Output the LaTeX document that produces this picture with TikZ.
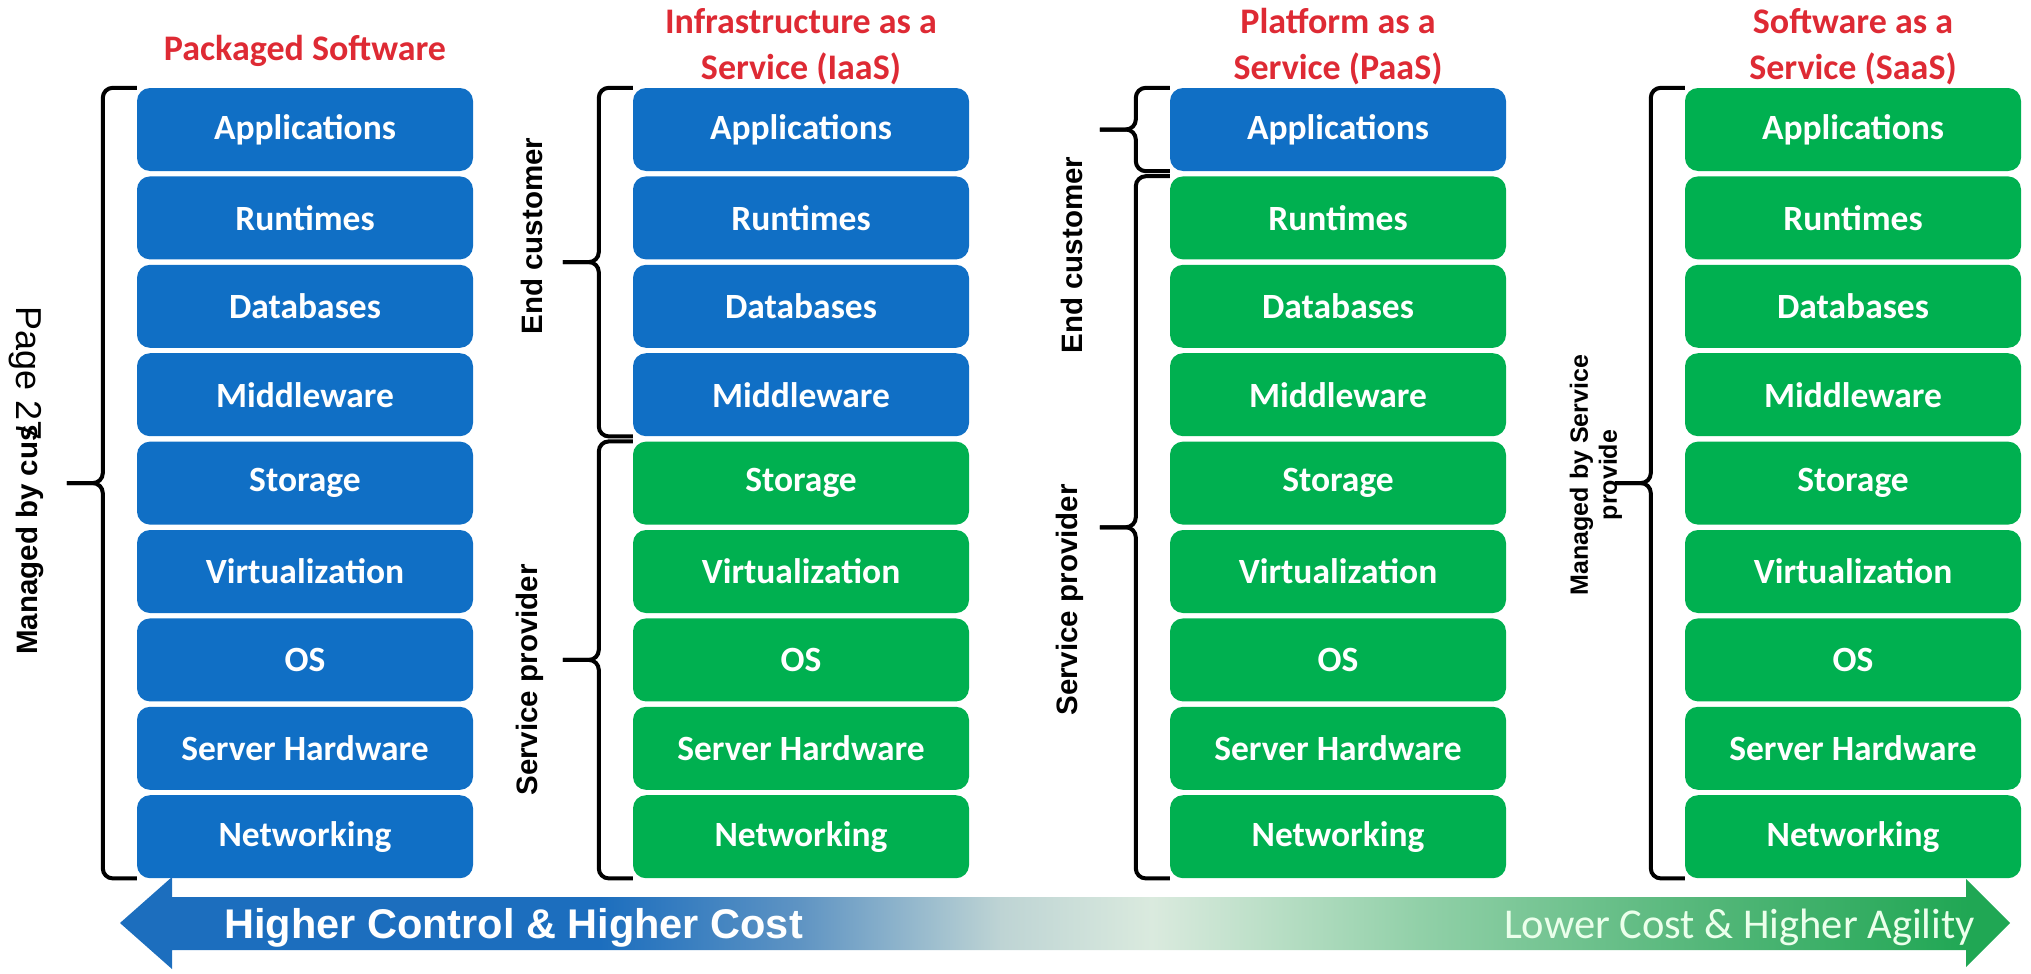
\documentclass[tikz,border=0pt]{standalone}
\usepackage{fontspec}
\setmainfont{Carlito}
\newfontfamily\arialfont{Liberation Sans}
\usetikzlibrary{positioning,calc}

\definecolor{stackblue}{RGB}{16,111,197}
\definecolor{stackgreen}{RGB}{0,176,80}
\definecolor{titlered}{RGB}{222,42,52}
\definecolor{barA}{RGB}{28,110,190}
\definecolor{barB}{RGB}{95,148,195}
\definecolor{barC}{RGB}{190,212,212}
\definecolor{barD}{RGB}{218,234,222}
\definecolor{barE}{RGB}{145,208,168}
\definecolor{barF}{RGB}{85,183,122}
\definecolor{barG}{RGB}{32,167,84}

\pgfdeclarehorizontalshading{costbar}{100bp}{color(0bp)=(barA); color(25bp)=(barA); color(37.7bp)=(barA); color(43bp)=(barB); color(48.3bp)=(barC); color(52.3bp)=(barD); color(59.4bp)=(barE); color(66.8bp)=(barF); color(73.9bp)=(barG); color(75bp)=(barG); color(100bp)=(barG)}

\begin{document}
\begin{tikzpicture}[x=1pt,y=-1pt,
    layer/.style={rectangle, rounded corners=13pt, minimum width=336pt, minimum height=83pt, inner sep=0pt, text=white, font=\bfseries\fontsize{35.5}{40}\selectfont},
    coltitle/.style={text=titlered, align=center, inner sep=0pt, font=\bfseries\fontsize{36}{46}\selectfont},
    sidelabel/.style={rotate=90, inner sep=0pt, font=\arialfont\bfseries\fontsize{29.5}{32}\selectfont},
    bracepen/.style={line width=4pt, rounded corners=10pt}]
    \useasboundingbox (0,0) rectangle (2031,974);

    % Draw the layer stacks
    \foreach \col/\cx/\nblue in {pkg/305/9, iaas/801/4, paas/1338/1, saas/1853/0} {
        \foreach \lbl [count=\i] in {Applications, Runtimes, Databases, Middleware, Storage, Virtualization, OS, Server Hardware, Networking} {
            \ifnum\i>\nblue \def\boxcol{stackgreen}\else\def\boxcol{stackblue}\fi
            \node[layer, fill=\boxcol] (\col\i) at (\cx, {129.5+88.4*(\i-1)}) {\lbl};
        }
    }

    % Column titles
    \node[coltitle, above=21pt of pkg1] (pkgtitle) {Packaged Software};
    \node[coltitle, above=3pt of iaas1] (iaastitle) {Infrastructure as a\\Service (IaaS)};
    \node[coltitle, above=3pt of paas1] (paastitle) {Platform as a\\Service (PaaS)};
    \node[coltitle, above=3pt of saas1] (saastitle) {Software as a\\Service (SaaS)};

    % Draw braces
    \foreach \a/\b in {pkg1/pkg9, iaas1/iaas4, iaas5/iaas9, paas1/paas1, paas2/paas9, saas1/saas9} {
        \coordinate (tip) at ($(\a.north west)!0.5!(\b.south west)+(-70,0)$);
        \draw[bracepen] (\a.north west) -- ++(-34,0) |- (tip);
        \draw[bracepen] (\b.south west) -- ++(-34,0) |- (tip);
    }

    % Brace labels
    \node[sidelabel] (pkgside) at (30,540) {Managed by cus};
    \node[rotate=-90, inner sep=0pt, font=\arialfont\fontsize{36}{40}\selectfont] (pagenum) at (25,374) {Page 27};
    \node[sidelabel] (iaasend) at (532,236) {End customer};
    \node[sidelabel] (iaasprov) at (530,680) {Service provider};
    \node[sidelabel] (paasend) at (1072,255) {End customer};
    \node[sidelabel] (paasprov) at (1070,600) {Service provider};
    \node[sidelabel, align=center, font=\arialfont\bfseries\fontsize{25}{29}\selectfont] (saasside) at (1596,475) {Managed by Service\\provide};

    % Cost arrow
    \shade[shading=costbar] (120,923) -- (172,877) -- (172,897) -- (1966,897) -- (1966,879) -- (2010,923)
        -- (1966,967) -- (1966,950) -- (172,950) -- (172,969) -- cycle;
    \node[anchor=base west, inner sep=0pt, text=white, font=\arialfont\bfseries\fontsize{41.5}{46}\selectfont] (highctrl) at (224,938) {Higher Control \& Higher Cost};
    \node[anchor=base east, inner sep=0pt, text=white!92!green, font=\fontsize{42.5}{46}\selectfont] (lowcost) at (1975,938) {Lower Cost \& Higher Agility};
\end{tikzpicture}
\end{document}
